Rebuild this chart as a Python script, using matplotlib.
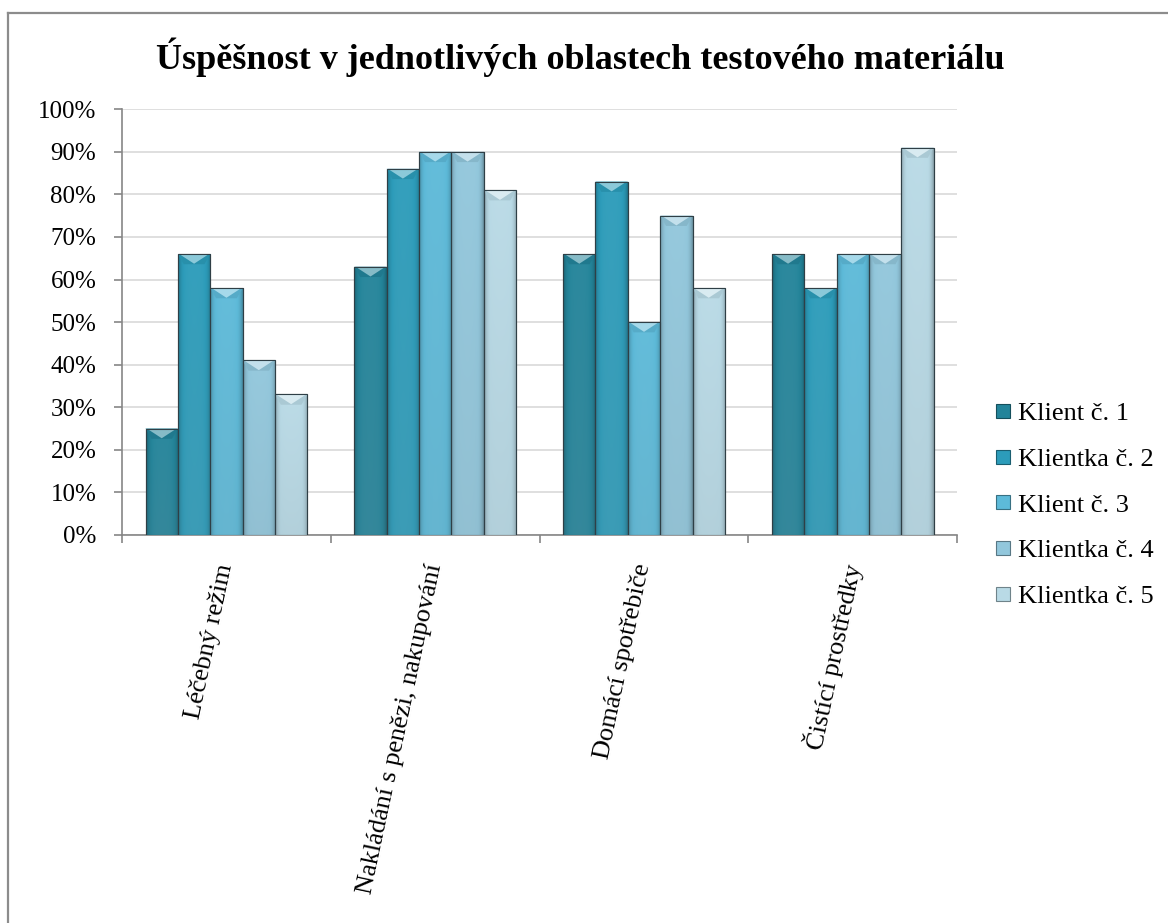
import numpy as np
import matplotlib
matplotlib.use("Agg")
import matplotlib.pyplot as plt
from matplotlib.colors import to_rgb
from matplotlib.patches import Polygon
from matplotlib.lines import Line2D
from matplotlib.ticker import PercentFormatter, FixedLocator

plt.rcParams["font.family"] = ["Liberation Serif", "DejaVu Serif"]

# data (in %)
categories = ["Léčebný režim", "Nakládání s penězi, nakupování",
              "Domácí spotřebiče", "Čistící prostředky"]
series_names = ["Klient č. 1", "Klientka č. 2", "Klient č. 3",
                "Klientka č. 4", "Klientka č. 5"]
klient_1 = [25, 63, 66, 66]
klientka_2 = [66, 86, 83, 58]
klient_3 = [58, 90, 50, 66]
klientka_4 = [41, 90, 75, 66]
klientka_5 = [33, 81, 58, 91]
series_values = [klient_1, klientka_2, klient_3, klientka_4, klientka_5]
y_ticks = list(range(0, 101, 10))

colors = ["#23849a", "#2c9cba", "#5dbad9", "#92c7dc", "#b9dae6"]
title = "Úspěšnost v jednotlivých oblastech testového materiálu"


def shade(col, f):
    c = np.array(to_rgb(col))
    if f >= 0:
        return c + (1 - c) * f
    return c * (1 + f)


fig = plt.figure(figsize=(11.68, 9.23), dpi=100)
ax = fig.add_axes([0.1045, 0.4204, 0.7150, 0.4612])

x = np.arange(len(categories))
bar_w = 0.155
n = len(series_names)
edge = "#2f3f46"

for i, (name, vals, col) in enumerate(zip(series_names, series_values, colors)):
    offs = (i - (n - 1) / 2) * bar_w
    bars = ax.bar(x + offs, vals, width=bar_w, color=col, edgecolor=edge,
                  linewidth=0.8, label=name, zorder=3)
    # horizontal shading: darker towards the edges
    t = np.linspace(-1, 1, 64)
    prof = 0.04 * (1 - t ** 2) - 0.28 * np.abs(t) ** 6
    # vertical shading: a bit greyer/darker towards the bottom
    v = np.linspace(0, 1, 48)[:, None]
    for b in bars:
        bx, bw, bh = b.get_x(), b.get_width(), b.get_height()
        row = np.array([shade(col, p) for p in prof])
        grad = row[None, :, :] * (1 - 0.12 * v[:, :, None]) + \
            0.12 * v[:, :, None] * np.array([0.45, 0.5, 0.52])
        im = ax.imshow(grad, extent=[bx, bx + bw, 0, bh], aspect="auto",
                       origin="upper", zorder=3.2, interpolation="bilinear")
        im.set_clip_path(b)
        # bevelled top: darker side facets, light triangle in the middle
        d = 2.4
        ax.add_patch(Polygon([[bx, bh], [bx + bw, bh], [bx + bw * 0.82, bh - d],
                              [bx + bw * 0.18, bh - d]], closed=True,
                             facecolor=shade(col, -0.08), edgecolor="none",
                             zorder=3.3))
        ax.add_patch(Polygon([[bx + bw * 0.04, bh], [bx + bw * 0.96, bh],
                              [bx + bw / 2, bh - d * 0.95]], closed=True,
                             facecolor=shade(col, 0.45), edgecolor="none",
                             zorder=3.4))
        ax.add_patch(plt.Rectangle((bx, 0), bw, bh, fill=False,
                                   edgecolor=edge, linewidth=0.8, zorder=3.5))

ax.set_xlim(-0.5, len(categories) - 0.5)
ax.set_ylim(0, 100)
ax.yaxis.set_major_locator(FixedLocator(y_ticks))
ax.yaxis.set_major_formatter(PercentFormatter(decimals=0))
ax.grid(axis="y", color="#d9d9d9", linewidth=1.2, zorder=0)
ax.set_axisbelow(True)

for s in ["top", "right"]:
    ax.spines[s].set_visible(False)
for s in ["left", "bottom"]:
    ax.spines[s].set_color("#868686")
    ax.spines[s].set_linewidth(1.2)

ax.tick_params(axis="y", direction="out", length=5.5, width=1.2, color="#868686",
               pad=13, labelsize=18)
ax.set_xticks(x)
ax.set_xticklabels(categories, fontsize=19, rotation=78, rotation_mode="anchor",
                   ha="right", va="center")
ax.tick_params(axis="x", which="major", length=0, pad=21)
ax.set_xticks(np.arange(-0.5, len(categories), 1.0), minor=True)
ax.tick_params(axis="x", which="minor", direction="out", length=5.5, width=1.2,
               color="#868686")

handles = [Line2D([0], [0], marker="s", linestyle="none", markersize=10.5,
                  markerfacecolor=c, markeredgecolor=shade(c, -0.4),
                  markeredgewidth=0.8) for c in colors]
fig.legend(handles, series_names, loc="center left",
           bbox_to_anchor=(0.843, 0.453), frameon=False, fontsize=19,
           handlelength=0.6, handletextpad=0.25, labelspacing=0.84,
           borderaxespad=0)

fig.text(0.497, 0.938, title, ha="center", va="center", fontsize=26,
         fontweight="bold")

# chart frame (left and top edges are visible)
fig.add_artist(Line2D([0.0072, 0.0072], [0, 0.986], color="#8c8c8c",
                      linewidth=1.6, transform=fig.transFigure))
fig.add_artist(Line2D([0.0072, 1.0], [0.986, 0.986], color="#8c8c8c",
                      linewidth=1.6, transform=fig.transFigure))

fig.savefig("out.png", dpi=100)
